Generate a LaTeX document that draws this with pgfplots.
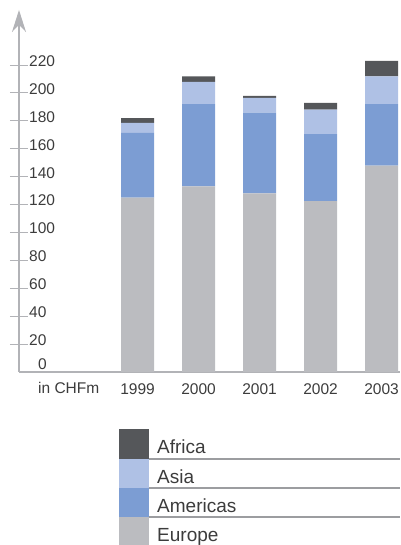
\documentclass[border=0pt]{standalone}
\usepackage{fontspec}
\setmainfont{Liberation Sans}
\usepackage{pgfplots}
\pgfplotsset{compat=1.18}
\usetikzlibrary{arrows.meta}

\definecolor{europe}{HTML}{BBBCC0}
\definecolor{americas}{HTML}{7C9DD3}
\definecolor{asia}{HTML}{AFC1E5}
\definecolor{africa}{HTML}{55575A}
\definecolor{axisgrey}{HTML}{B2B3B7}
\definecolor{rulegrey}{HTML}{9C9DA0}
\definecolor{txt}{HTML}{3C3C3C}

\begin{document}
\begin{tikzpicture}[x=1bp,y=1bp]
\useasboundingbox (-19,-173) rectangle (381,372);
\begin{axis}[
  at={(0,0)}, anchor=south west,
  scale only axis, width=381bp, height=362bp,
  xmin=-1.943, xmax=4.303, ymin=0, ymax=259.5,
  ybar stacked, bar width=33bp,
  axis lines=left,
  x axis line style={-, draw=axisgrey, line width=1.6bp},
  y axis line style={draw=axisgrey, line width=1.6bp,
    -{Stealth[length=22bp,width=14bp,fill=axisgrey]}},
  xtick={0,...,4},
  xticklabels={1999,2000,2001,2002,2003},
  xtick style={draw=none},
  ytick={20,40,...,220},
  ytick style={draw=axisgrey, line width=1bp},
  major tick length=18bp, tick align=center,
  extra y ticks={0},
  extra y tick style={major tick length=0pt,
    yticklabel style={yshift=4bp}},
  /pgf/number format/assume math mode=true,
  ticklabel style={font=\fontsize{15.5bp}{17bp}\selectfont, text=txt},
  yticklabel style={anchor=west, inner sep=0pt, xshift=19bp, yshift=4bp},
  xticklabel style={anchor=base, inner sep=0pt, yshift=-13bp},
]
\addplot[fill=europe, draw=none] coordinates {(0,125) (1,133) (2,128) (3,122.5) (4,148)};
\addplot[fill=americas, draw=none] coordinates {(0,46.5) (1,59) (2,58) (3,48) (4,44)};
\addplot[fill=asia, draw=none] coordinates {(0,7) (1,16) (2,10.5) (3,17.5) (4,20)};
\addplot[fill=africa, draw=none] coordinates {(0,3.5) (1,4) (2,1.5) (3,5) (4,11)};
\end{axis}

% unit label beside the years
\node[anchor=base west, inner sep=0pt, text=txt,
      font=\fontsize{15.5bp}{17bp}\selectfont] at (19,-22) {in CHFm};

% legend
\fill[africa]   (100,-57)  rectangle (130,-87);
\fill[asia]     (100,-87)  rectangle (130,-116);
\fill[americas] (100,-116) rectangle (130,-145);
\fill[europe]   (100,-145) rectangle (130,-173);
\draw[rulegrey, line width=1.2bp] (130,-87) -- (381,-87);
\draw[rulegrey, line width=1.2bp] (130,-116) -- (381,-116);
\draw[rulegrey, line width=1.2bp] (130,-145) -- (381,-145);
\begin{scope}[every node/.style={anchor=base west, inner sep=0pt, text=txt,
      font=\fontsize{19bp}{21bp}\selectfont}]
\node at (138,-81.5) {Africa};
\node at (138,-111)  {Asia};
\node at (138,-140)  {Americas};
\node at (138,-169)  {Europe};
\end{scope}
\end{tikzpicture}
\end{document}
